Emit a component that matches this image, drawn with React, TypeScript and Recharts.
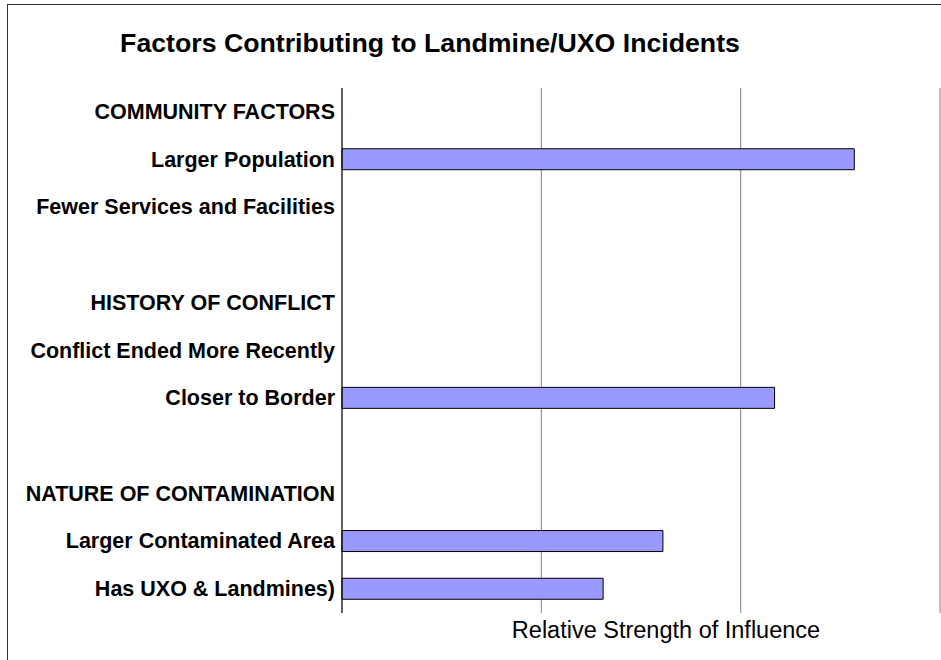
import React from "react";
import { BarChart, Bar, XAxis, YAxis, CartesianGrid } from "recharts";

const categories = [
  "COMMUNITY FACTORS",
  "Larger Population",
  "Fewer Services and Facilities",
  "",
  "HISTORY OF CONFLICT",
  "Conflict Ended More Recently",
  "Closer to Border",
  " ",
  "NATURE OF CONTAMINATION",
  "Larger Contaminated Area",
  "Has UXO & Landmines)",
];
const values = [null, 2.57, null, null, null, null, 2.17, null, null, 1.61, 1.31];
const xTicks = [0, 1, 2, 3];

const data = categories.map((name, i) => ({ name, value: values[i] }));

const font = '"Liberation Sans", Arial, sans-serif';

const CategoryTick = (props: any) => {
  const { x, y, payload } = props;
  return (
    <text x={x + 1} y={y} dy={7} textAnchor="end" fontFamily={font} fontSize={21.5} fontWeight="bold" fill="#000">
      {payload.value}
    </text>
  );
};

const NoTick = () => <g />;

export default function App() {
  return (
    <div style={{ position: "absolute", left: 0, top: 0, width: 941, height: 660, background: "#fff", overflow: "hidden", fontFamily: font }}>
      <div style={{ position: "absolute", left: 7, top: 4, width: 1000, height: 700, border: "1px solid #333" }} />
      <div style={{ position: "absolute", left: 0, top: 28, width: 860, textAlign: "center", fontSize: 26.7, fontWeight: "bold", color: "#000", whiteSpace: "nowrap" }}>
        Factors Contributing to Landmine/UXO Incidents
      </div>
      <BarChart
        width={941}
        height={660}
        data={data}
        layout="vertical"
        margin={{ top: 88, right: 1, bottom: 0, left: 0 }}
        barCategoryGap={0}
        style={{ position: "absolute", left: 0, top: 0 }}
      >
        <CartesianGrid horizontal={false} stroke="#808080" />
        <XAxis type="number" domain={[0, 3]} ticks={xTicks} axisLine={false} tickLine={false} tick={<NoTick />} height={47} />
        <YAxis
          type="category"
          dataKey="name"
          width={342}
          axisLine={{ stroke: "#000" }}
          tickLine={false}
          tick={<CategoryTick />}
          interval={0}
        />
        <Bar dataKey="value" fill="#9999FF" stroke="#000" strokeWidth={1} barSize={21} isAnimationActive={false} />
      </BarChart>
      <div style={{ position: "absolute", left: 466, width: 400, top: 617, textAlign: "center", fontSize: 23.5, color: "#000", whiteSpace: "nowrap" }}>
        Relative Strength of Influence
      </div>
    </div>
  );
}
